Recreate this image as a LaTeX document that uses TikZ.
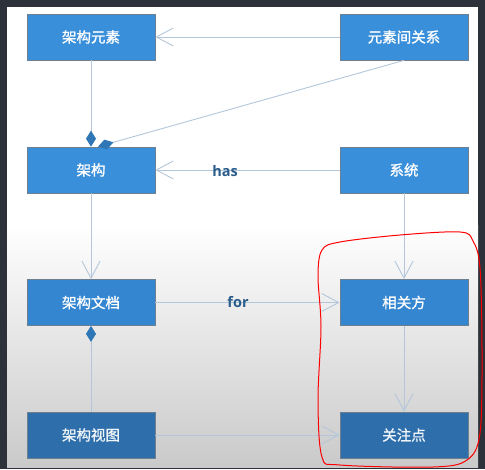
\documentclass[tikz,border=0pt]{standalone}
\usepackage{fontspec}
\newfontfamily\cjk[FakeBold=1.2]{Noto Sans CJK SC}
\newfontfamily\lblfont{Open Sans}
\usetikzlibrary{arrows.meta,calc}

\definecolor{frame}{HTML}{2D3139}
\definecolor{boxA}{HTML}{3A8FDB}
\definecolor{boxB}{HTML}{3586D0}
\definecolor{boxD}{HTML}{2D6EAB}
\definecolor{edgegray}{HTML}{6E7F90}
\definecolor{link}{HTML}{B4C7DA}
\definecolor{dia}{HTML}{2F76B6}
\definecolor{lbl}{HTML}{2B5D8B}

\tikzset{
  box/.style={draw=edgegray, line width=0.7pt, minimum width=128pt,
    minimum height=46pt, inner sep=0pt, text=white, font=\cjk\fontsize{14.5}{14.5}\selectfont},
  link/.style={draw=link, line width=0.9pt},
  openarrow/.style={link, -{Straight Barb[length=17pt,width=18pt,line width=0.9pt]}},
  composed/.style={link, -{Diamond[length=16pt,width=10pt,fill=dia,color=dia]}},
  lbltext/.style={text=lbl, font=\lblfont\bfseries\fontsize{14.5}{14.5}\selectfont},
}

\begin{document}
\begin{tikzpicture}[x=1pt,y=-1pt]
  % dark surround and the panel with its grey fade at the bottom
  \fill[frame] (0,0) rectangle (485,469);
  \fill[white] (7,7) rectangle (478,467);
  \shade[top color=white, bottom color=black!21] (7,225) rectangle (478,467);
  \useasboundingbox (0,0) rectangle (485,469);

  % boxes
  \node[box, fill=boxA] (elem) at (91,37)    {架构元素};
  \node[box, fill=boxA] (rel)  at (404,37)   {元素间关系};
  \node[box, fill=boxA] (arch) at (91,170)   {架构};
  \node[box, fill=boxA] (sys)  at (404,170)  {系统};
  \node[box, fill=boxB] (doc)  at (91,302.5) {架构文档};
  \node[box, fill=boxB] (stk)  at (404,302.5){相关方};
  \node[box, fill=boxD, text=white!92!boxD] (view) at (91,435)   {架构视图};
  \node[box, fill=boxD, text=white!92!boxD] (conc) at (404,435)  {关注点};

  \coordinate (archtop) at ($(arch.north)+(7,0)$);

  % connectors
  \draw[openarrow] (rel.west) -- (elem.east);
  \draw[composed] (elem.south) -- (arch.north);
  \draw[composed] (rel.south) -- (archtop);
  \draw[openarrow] (sys.west) -- (arch.east);
  \draw[openarrow] (arch.south) -- (doc.north);
  \draw[openarrow] (sys.south) -- (stk.north);
  \draw[openarrow] (doc.east) -- (stk.west);
  \draw[composed] (view.north) -- (doc.south);
  \draw[openarrow] (stk.south) -- (conc.north);
  \draw[openarrow] (view.east) -- (conc.west);

  % labels
  \node[lbltext] (has) at (225,171) {has};
  \node[lbltext] (for) at (238,302) {for};

  % red freehand loop around the right-hand boxes
  \draw[red, line width=1pt] plot[smooth cycle, tension=0.55] coordinates {
    (318,276) (322,250) (340,242) (400,235) (460,232) (473,241)
    (480,268) (482,350) (480,433) (467,460) (433,467) (340,465)
    (322,457) (318,400) (321,327)};
\end{tikzpicture}
\end{document}
